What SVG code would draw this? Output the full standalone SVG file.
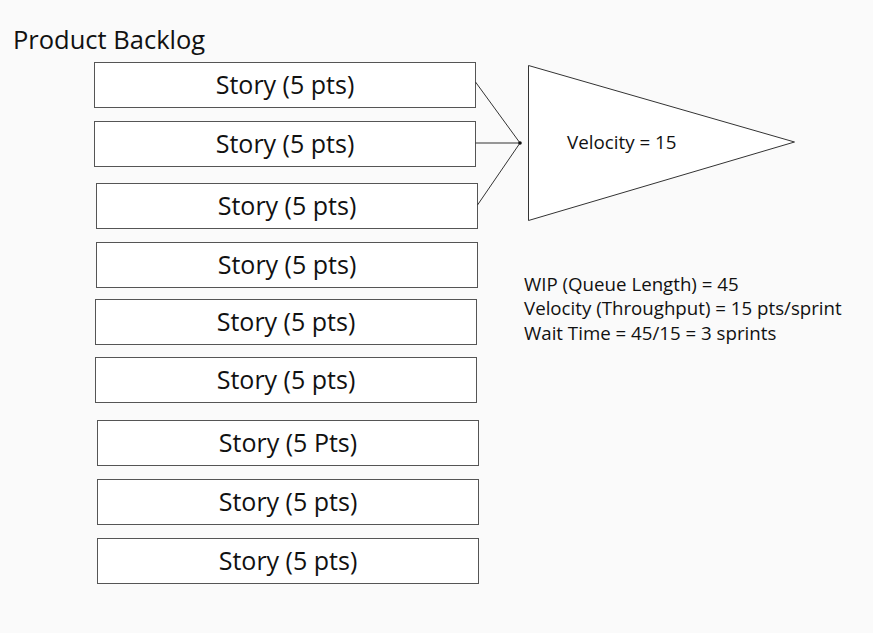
<svg xmlns="http://www.w3.org/2000/svg" width="873" height="633" viewBox="0 0 873 633">
<style>
.bg{fill:#fafafa}
.story rect{fill:#ffffff;stroke:#555;stroke-width:1}
.story text{font-family:"Open Sans","Liberation Sans",sans-serif;font-size:25px;fill:#111;text-anchor:middle}
.lbl{font-family:"Open Sans","Liberation Sans",sans-serif;fill:#111}
.conn line{stroke:#333;stroke-width:1}
</style>
<rect class="bg" x="0" y="0" width="873" height="633"/>
<text id="title" class="lbl" x="13" y="48.5" font-size="25.5">Product Backlog</text>
<g id="story1" class="story"><rect x="94.5" y="62.5" width="381" height="45"/><text x="285" y="94">Story (5 pts)</text></g>
<g id="story2" class="story"><rect x="94.5" y="121.5" width="381" height="45"/><text x="285" y="153">Story (5 pts)</text></g>
<g id="story3" class="story"><rect x="96.5" y="183.5" width="381" height="45"/><text x="287" y="215">Story (5 pts)</text></g>
<g id="story4" class="story"><rect x="96.5" y="242.5" width="381" height="45"/><text x="287" y="274">Story (5 pts)</text></g>
<g id="story5" class="story"><rect x="95.5" y="299.5" width="381" height="45"/><text x="286" y="331">Story (5 pts)</text></g>
<g id="story6" class="story"><rect x="95.5" y="357.5" width="381" height="45"/><text x="286" y="389">Story (5 pts)</text></g>
<g id="story7" class="story"><rect x="97.5" y="420.5" width="381" height="45"/><text x="288" y="452">Story (5 Pts)</text></g>
<g id="story8" class="story"><rect x="97.5" y="479.5" width="381" height="45"/><text x="288" y="511">Story (5 pts)</text></g>
<g id="story9" class="story"><rect x="97.5" y="538.5" width="381" height="45"/><text x="288" y="570">Story (5 pts)</text></g>
<g id="connectors" class="conn">
<line x1="475.5" y1="82" x2="520" y2="143"/>
<line x1="475.5" y1="143" x2="520" y2="143"/>
<line x1="477.5" y1="205" x2="520" y2="143"/>
<circle cx="520" cy="143" r="1.8" fill="#111"/>
</g>
<g id="velocity">
<polygon points="528.5,65.5 794.5,142 528.5,220.5" fill="#ffffff" stroke="#333" stroke-width="1"/>
<text class="lbl" x="567" y="148.5" font-size="18.8">Velocity = 15</text>
</g>
<g id="metrics" class="lbl" font-size="18.7">
<text x="524" y="291">WIP (Queue Length) = 45</text>
<text x="524" y="315">Velocity (Throughput) = 15 pts/sprint</text>
<text x="524" y="339.5">Wait Time = 45/15 = 3 sprints</text>
</g>
</svg>
